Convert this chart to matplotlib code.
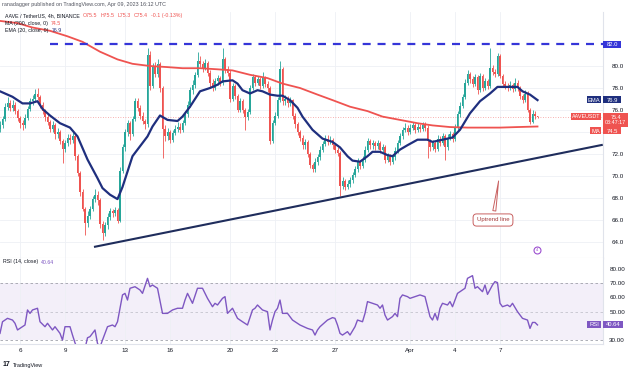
import numpy as np
import pandas as pd
import matplotlib
matplotlib.use("Agg")
import matplotlib.pyplot as plt
from matplotlib.patches import Rectangle

plt.rcParams['font.family'] = ['Liberation Sans', 'DejaVu Sans']

# =====================================================================
# DATA (AAVE / USDT, 4h candles)
# =====================================================================
start_time = '2023-03-04 16:00'
first_open = 74.3

closes = [
    74.6, 75.2, 76.3, 76.6, 76.2, 76.5, 75.9, 75.3, 74.8, 74.6,
    75.3, 76.1, 76.8, 77.0, 77.5, 77.2, 76.5, 75.9, 75.4, 74.9,
    74.3, 74.6, 73.8, 74.0, 73.2, 72.5, 73.0, 73.5, 73.3, 73.6,
    71.8, 70.3, 68.5, 67.0, 65.7, 66.4, 67.0, 67.9, 68.3, 67.8,
    65.6, 64.8, 65.5, 66.3, 66.8, 66.6, 66.9, 65.9, 70.5, 72.6,
    74.0, 74.8, 73.8, 75.2, 76.8, 76.2, 75.5, 75.0, 74.7, 81.0,
    78.2, 80.0, 79.3, 80.2, 78.0, 74.3, 73.6, 74.0, 73.3, 73.9,
    74.3, 74.5, 74.2, 74.8, 75.6, 76.5, 77.8, 78.3, 79.2, 80.5,
    80.2, 79.8, 80.3, 79.4, 78.5, 78.0, 78.6, 78.9, 78.5, 80.6,
    79.7, 79.4, 77.0, 78.2, 77.3, 76.0, 76.8, 76.0, 75.4, 75.8,
    78.0, 79.0, 78.5, 78.8, 78.2, 78.9, 78.4, 78.0, 73.2, 74.8,
    75.5, 76.9, 79.7, 76.8, 77.0, 76.6, 76.9, 75.5, 74.7, 74.0,
    73.5, 72.8, 73.1, 72.0, 71.0, 70.6, 71.3, 71.7, 72.4, 72.9,
    73.4, 73.1, 73.3, 72.8, 72.4, 72.1, 69.1, 69.5, 69.0, 69.3,
    69.6, 70.1, 70.6, 71.3, 70.9, 71.5, 72.4, 73.2, 72.8, 73.0,
    72.7, 73.0, 72.4, 72.6, 71.5, 71.8, 71.3, 71.7, 72.3, 73.0,
    73.6, 74.2, 74.4, 74.0, 74.4, 74.6, 74.2, 74.5, 74.3, 74.6,
    74.4, 73.2, 72.6, 73.0, 72.5, 73.4, 73.0, 73.6, 72.6, 73.5,
    73.8, 73.4, 74.4, 75.6, 76.4, 77.2, 78.5, 79.3, 78.8, 78.4,
    79.0, 77.8, 79.1, 78.0, 78.6, 78.2, 79.8, 79.5, 79.3, 80.9,
    79.1, 78.4, 78.2, 78.0, 78.3, 77.9, 78.5, 78.0, 77.3, 76.9,
    77.5, 76.0, 74.9, 75.6, 75.5, 75.4,
]

highs = [
    75.0, 75.5, 76.6, 77.2, 76.9, 76.9, 76.7, 76.1, 75.5, 75.1,
    75.6, 76.4, 77.1, 77.4, 77.9, 78.0, 77.4, 76.7, 76.1, 75.7,
    75.1, 75.0, 74.8, 74.4, 74.2, 73.4, 73.3, 73.8, 73.8, 74.0,
    73.8, 72.0, 70.5, 68.8, 67.2, 66.8, 67.3, 68.2, 68.8, 68.6,
    68.0, 65.9, 65.8, 66.6, 67.1, 67.0, 67.2, 67.1, 70.8, 72.9,
    74.3, 75.1, 75.0, 75.5, 77.1, 77.1, 76.5, 75.8, 75.2, 81.6,
    81.4, 80.3, 80.4, 80.6, 80.4, 78.2, 74.6, 74.4, 74.2, 74.2,
    74.6, 74.9, 74.8, 75.1, 75.9, 76.8, 78.1, 78.7, 79.5, 81.3,
    80.9, 80.5, 80.6, 80.5, 79.6, 78.8, 78.9, 79.2, 79.1, 81.6,
    80.8, 80.0, 79.6, 78.5, 78.4, 77.5, 77.1, 77.0, 76.2, 76.1,
    78.3, 79.3, 79.2, 79.1, 79.0, 79.5, 79.1, 78.6, 78.2, 75.1,
    75.8, 77.2, 80.5, 79.9, 77.4, 77.3, 77.2, 77.0, 75.7, 74.9,
    74.2, 73.7, 73.4, 73.3, 72.2, 71.2, 71.6, 72.0, 72.7, 73.2,
    73.7, 73.7, 73.6, 73.5, 73.0, 72.6, 72.3, 69.9, 69.7, 69.6,
    69.9, 70.4, 70.9, 71.6, 71.5, 71.8, 72.7, 73.5, 73.4, 73.3,
    73.2, 73.3, 73.2, 72.9, 72.8, 72.1, 72.0, 72.0, 72.6, 73.3,
    73.9, 74.5, 74.8, 74.6, 74.7, 74.9, 74.8, 74.8, 74.7, 74.9,
    74.9, 74.6, 73.4, 73.3, 73.2, 73.7, 73.6, 73.9, 73.8, 73.8,
    74.1, 74.0, 74.7, 75.9, 76.7, 77.5, 78.8, 79.6, 79.5, 79.1,
    79.3, 79.2, 79.4, 79.3, 78.9, 78.8, 81.6, 80.1, 79.7, 81.2,
    81.1, 79.3, 78.6, 78.5, 78.6, 78.5, 78.9, 78.7, 78.2, 77.5,
    77.8, 77.7, 76.2, 76.0, 75.9, 75.5,
]

lows = [
    74.0, 74.4, 75.0, 76.0, 75.9, 75.9, 75.6, 75.0, 74.4, 74.2,
    74.4, 75.1, 75.9, 76.5, 76.8, 76.9, 76.2, 75.6, 75.0, 74.6,
    74.0, 74.0, 73.4, 73.5, 72.9, 71.2, 72.2, 72.7, 72.9, 73.0,
    71.5, 70.0, 68.2, 66.8, 64.6, 65.4, 66.1, 66.8, 67.6, 67.4,
    65.3, 64.2, 64.5, 65.2, 66.0, 66.3, 66.4, 65.7, 65.8, 70.3,
    72.3, 73.6, 73.3, 73.6, 75.0, 75.9, 75.2, 74.7, 74.3, 74.5,
    77.8, 78.0, 79.0, 79.0, 77.6, 71.6, 73.2, 73.3, 73.0, 73.1,
    73.7, 74.0, 73.9, 74.0, 74.6, 75.4, 76.3, 77.5, 78.0, 79.0,
    79.9, 79.5, 79.6, 79.1, 78.1, 77.7, 77.8, 78.3, 78.2, 78.3,
    79.4, 79.1, 76.7, 76.8, 77.0, 75.8, 75.8, 75.7, 74.2, 75.1,
    75.6, 77.8, 78.2, 78.3, 77.9, 78.0, 78.1, 77.6, 72.9, 73.0,
    74.6, 75.3, 76.7, 76.5, 76.5, 76.3, 76.4, 75.2, 74.4, 73.7,
    73.2, 72.5, 72.5, 71.7, 70.7, 70.4, 70.4, 71.0, 71.5, 72.2,
    72.7, 72.8, 72.9, 72.5, 72.1, 71.8, 68.2, 68.8, 68.7, 68.8,
    69.0, 69.4, 69.9, 70.4, 70.6, 70.7, 71.3, 72.2, 72.5, 72.5,
    72.4, 72.5, 72.1, 72.2, 71.2, 71.3, 71.0, 71.1, 71.5, 72.1,
    72.8, 73.4, 74.0, 73.7, 73.8, 74.2, 73.9, 74.0, 74.0, 74.1,
    74.1, 71.6, 72.3, 72.4, 72.2, 72.3, 72.7, 72.8, 71.5, 72.4,
    73.3, 73.1, 73.2, 74.2, 75.4, 76.2, 77.0, 78.3, 78.5, 78.1,
    78.2, 77.5, 77.6, 77.7, 77.8, 77.9, 78.0, 79.2, 79.0, 79.1,
    78.9, 78.1, 77.9, 77.7, 77.8, 77.6, 77.7, 77.7, 77.0, 76.6,
    76.7, 75.8, 74.7, 74.8, 75.2, 75.3,
]

# EMA(20) and MA(200) read at candle positions
ema_idx = [0, 5, 9, 12, 15, 17, 20, 24, 28, 31, 35, 39, 41, 44, 47, 49, 51, 53,
           56, 59, 61, 64, 67, 71, 73, 76, 80, 84, 87, 89, 93, 95, 97, 100, 103,
           105, 108, 111, 113, 116, 119, 121, 125, 129, 133, 136, 139, 141, 144,
           147, 149, 152, 155, 157, 160, 163, 167, 171, 173, 177, 181, 184, 188,
           192, 196, 199, 203, 207, 209, 212, 215]
ema20 = [77.7, 77.2, 76.6, 76.6, 76.8, 76.1, 75.5, 74.8, 74.4, 73.6, 71.5, 69.8,
         68.9, 68.3, 67.9, 69.0, 70.4, 71.8, 72.7, 73.6, 74.5, 75.5, 75.1, 75.0,
         75.4, 76.3, 77.7, 78.0, 78.3, 78.6, 78.7, 78.4, 77.8, 77.5, 77.8, 77.7,
         77.4, 77.3, 77.3, 76.9, 76.2, 75.4, 74.2, 73.4, 73.1, 72.6, 71.8, 71.4,
         71.3, 71.8, 72.2, 72.2, 71.9, 71.8, 72.4, 72.8, 73.3, 73.3, 73.1, 73.3,
         73.5, 74.2, 75.7, 76.8, 77.5, 78.1, 78.1, 78.1, 77.7, 77.4, 76.9]

ma_idx = [0, 7, 13, 20, 27, 33, 40, 47, 53, 60, 67, 73, 80, 87, 93, 100, 107,
          113, 120, 127, 133, 140, 147, 153, 160, 167, 173, 180, 187, 193, 200,
          207, 215]
ma200 = [84.1, 83.9, 83.5, 83.2, 82.7, 82.2, 81.3, 80.6, 80.2, 80.0, 79.9, 79.8,
         79.8, 79.7, 79.6, 79.2, 78.9, 78.4, 78.0, 77.4, 76.9, 76.3, 75.9, 75.4,
         75.1, 74.8, 74.6, 74.45, 74.4, 74.4, 74.4, 74.45, 74.5]

# RSI(14)
rsi_idx = [0, 1, 3, 5, 6, 7, 9, 10, 11, 12, 13, 15, 16, 18, 19, 21, 22, 24, 25,
           26, 28, 29, 30, 31, 32, 33, 34, 35, 36, 38, 39, 40, 41, 43, 45, 46,
           47, 49, 50, 51, 52, 54, 56, 57, 59, 60, 61, 63, 65, 67, 69, 71, 73,
           74, 75, 77, 79, 81, 83, 85, 86, 87, 89, 90, 91, 93, 95, 97, 99, 101,
           102, 103, 105, 107, 108, 109, 110, 111, 112, 113, 115, 117, 120, 123,
           125, 126, 127, 128, 131, 133, 134, 135, 136, 137, 139, 140, 142, 143,
           145, 146, 147, 149, 151, 152, 153, 154, 155, 157, 158, 159, 160, 161,
           163, 164, 166, 168, 170, 172, 173, 174, 175, 176, 177, 179, 180, 181,
           183, 185, 186, 187, 189, 190, 191, 193, 194, 195, 197, 198, 199, 200,
           201, 203, 204, 205, 207, 208, 209, 211, 212, 213, 214, 215]
rsi14 = [34.7, 42.9, 45.3, 44.1, 41.8, 37.1, 39.4, 40.6, 51.2, 48.8, 51.2, 52.4,
         42.9, 39.4, 41.8, 37.1, 39.4, 34.7, 30.0, 39.4, 39.4, 33.5, 28.0, 24.0,
         20.0, 17.5, 24.0, 31.6, 32.4, 37.1, 27.6, 25.0, 30.0, 39.4, 40.6, 39.4,
         42.9, 61.8, 62.9, 58.2, 66.5, 67.6, 65.3, 62.9, 73.5, 67.6, 68.8, 66.5,
         48.8, 48.8, 51.2, 52.4, 52.4, 58.2, 62.9, 55.9, 66.5, 66.5, 59.4, 53.5,
         55.9, 54.7, 59.4, 60.6, 48.8, 52.4, 45.3, 42.9, 40.6, 51.2, 52.4, 54.7,
         51.2, 50.0, 37.1, 44.1, 50.0, 52.4, 58.2, 48.8, 48.8, 44.1, 40.6, 38.2,
         37.1, 33.5, 37.1, 39.4, 44.1, 45.8, 45.3, 40.6, 34.7, 33.5, 35.9, 33.5,
         39.4, 44.1, 42.9, 48.8, 57.1, 55.9, 54.7, 52.4, 54.7, 47.6, 44.1, 46.5,
         48.8, 46.5, 59.4, 61.8, 60.6, 59.4, 60.6, 61.8, 60.6, 46.5, 44.1, 48.8,
         44.1, 52.4, 55.9, 54.7, 57.1, 53.5, 62.9, 65.3, 66.5, 73.5, 75.4, 66.5,
         67.6, 64.1, 68.8, 62.2, 68.8, 71.2, 70.5, 55.9, 53.5, 54.7, 53.5, 55.9,
         50.0, 47.6, 45.3, 44.1, 38.2, 42.4, 42.4, 40.64]

# uptrend line (candle index, price) and horizontal resistance
trend_idx = [38, 240.7]
trend_price = [63.57, 72.82]
resistance = 82.0
resistance_from = 20

date_ticks = ['2023-03-06', '2023-03-09', '2023-03-13', '2023-03-16', '2023-03-20',
              '2023-03-23', '2023-03-27', '2023-04-01', '2023-04-04', '2023-04-07']
date_labels = ['6', '9', '13', '16', '20', '23', '27', 'Apr', '4', '7']
price_ticks = [64, 66, 68, 70, 72, 74, 76, 78, 80]
price_hidden = [74]      # label sits under the MA tag
rsi_ticks = [30, 40, 50, 60, 70, 80]
rsi_hidden = [40]        # label sits under the RSI tag

GREEN = '#26a69a'
RED = '#ef5350'
NAVY = '#1f2f7e'
PURPLE = '#7e57c2'
GRID = '#eef0f5'
TEXT = '#131722'

# =====================================================================
# FIGURE
# =====================================================================
W, H = 631, 371
fig = plt.figure(figsize=(W / 100, H / 100), dpi=100, facecolor='white')

def fx(x):
    return x / W

def fy(y):
    return 1 - y / H

ax = fig.add_axes([0, fy(258), fx(603), (258 - 12) / H])
rax = fig.add_axes([0, fy(344), fx(603), (344 - 258) / H])

n = len(closes)
idx = np.arange(n)
c = np.array(closes)
o = np.array([first_open] + closes[:-1])
col = np.where(c >= o, GREEN, RED)

start = pd.Timestamp(start_time)
tick_pos = [(pd.Timestamp(d) - start) / pd.Timedelta('4h') for d in date_ticks]

# --- price pane ---
ax.vlines(idx, lows, highs, colors=col, lw=0.6, zorder=3)
ax.bar(idx, np.maximum(np.abs(c - o), 0.06), bottom=np.minimum(o, c), width=0.62,
       color=col, linewidth=0, zorder=4)
ax.plot(ma_idx, ma200, color=RED, lw=1.3, zorder=5)
ax.plot(ema_idx, ema20, color=NAVY, lw=1.6, zorder=5)
ax.plot(trend_idx, trend_price, color='#1f2d5c', lw=1.5, zorder=5)
ax.hlines(resistance, resistance_from, 241.2, color='#3535d8', lw=1.6,
          linestyles=(0, (3.6, 3.1)), zorder=5)
ax.axhline(closes[-1], color=RED, lw=0.6, ls=(0, (1, 2)), alpha=0.6, zorder=2)

ax.annotate('Uptrend line', xy=(199.6, 69.8), xytext=(197.2, 66.0),
            fontsize=4.3, color='#a33a3a', ha='center', va='center',
            bbox=dict(boxstyle='round,pad=0.6', fc='white', ec='#c86060', lw=0.7),
            arrowprops=dict(arrowstyle='wedge,tail_width=0.5', fc='white',
                            ec='#c86060', lw=0.7), zorder=6)
ax.plot([214.8], [63.27], marker='o', ms=5, mfc='white', mec='#9c4fd0', mew=0.8, zorder=6)
ax.text(214.8, 63.27, '4', fontsize=3, color='#9c4fd0', ha='center', va='center', zorder=7)

ax.set_xlim(0, 241.2)
ax.set_ylim(62.545, 84.91)
ax.set_xticks(tick_pos)
ax.set_yticks(price_ticks)
ax.yaxis.tick_right()
ax.set_yticklabels(['' if p in price_hidden else f'{p:.1f}' for p in price_ticks])
ax.tick_params(axis='both', length=0, labelsize=4.5, labelcolor=TEXT, pad=6.5,
               labelbottom=False)
ax.grid(True, color=GRID, lw=0.6)
for s in ['top', 'left']:
    ax.spines[s].set_visible(False)
for s in ['right', 'bottom']:
    ax.spines[s].set_color('#e0e3eb')
    ax.spines[s].set_linewidth(0.8)

# --- RSI pane ---
rax.axhspan(30, 70, color=PURPLE, alpha=0.09, lw=0)
for lvl, a in [(70, 0.9), (50, 0.5), (30, 0.9)]:
    rax.axhline(lvl, color='#9598a1', lw=0.6, ls=(0, (3, 3)), alpha=a)
rax.plot(rsi_idx, rsi14, color=PURPLE, lw=1.0)
rax.set_xlim(0, 241.2)
rax.set_ylim(27.2, 87.85)
rax.set_xticks(tick_pos)
rax.set_xticklabels(date_labels)
rax.set_yticks(rsi_ticks)
rax.yaxis.tick_right()
rax.set_yticklabels(['' if r in rsi_hidden else f'{r:.2f}' for r in rsi_ticks])
rax.tick_params(axis='both', length=0, labelsize=4.5, labelcolor=TEXT)
rax.tick_params(axis='y', pad=4.5)
rax.tick_params(axis='x', pad=3)
rax.grid(True, axis='x', color=GRID, lw=0.6)
for s in ['top', 'left']:
    rax.spines[s].set_visible(False)
for s in ['right', 'bottom']:
    rax.spines[s].set_color('#e0e3eb')
    rax.spines[s].set_linewidth(0.8)

# =====================================================================
# TEXT OVERLAYS
# =====================================================================
renderer = fig.canvas.get_renderer()

def txt(x, y, s, color=TEXT, fs=3.8, **kw):
    return fig.text(fx(x), fy(y), s, color=color, fontsize=fs, va='center', **kw)

def run(x, y, parts, gap=3, fs=3.8):
    """Draw coloured text pieces one after another on a line."""
    for s, color in parts:
        t = txt(x, y, s, color, fs)
        x = t.get_window_extent(renderer).x1 + gap

def tag(x0, x1, yc, h, color, s, fs=4.2):
    fig.add_artist(Rectangle((fx(x0), fy(yc + h / 2)), (x1 - x0) / W, h / H,
                             transform=fig.transFigure, facecolor=color,
                             edgecolor='none', zorder=5))
    fig.text(fx((x0 + x1) / 2), fy(yc), s, color='white', fontsize=fs,
             ha='center', va='center', zorder=6, linespacing=1.15)

txt(2, 4.5, 'ranadagger published on TradingView.com, Apr 09, 2023 16:12 UTC', '#50535e', 3.9)
run(5, 15.7, [('AAVE / TetherUS, 4h, BINANCE', TEXT), ('O75.5', RED), ('H75.5', RED),
              ('L75.3', RED), ('C75.4', RED), ('-0.1 (-0.13%)', RED)])
run(5, 23.3, [('MA (200, close, 0)', TEXT), ('74.5', RED)])
run(5, 30.7, [('EMA (20, close, 0)', TEXT), ('76.9', NAVY)])
run(3, 262, [('RSI (14, close)', TEXT), ('40.64', PURPLE)])

tag(603, 621, 44, 7, '#3535d8', '82.0')
tag(587, 601, 100, 7, NAVY, 'EMA')
tag(603, 621, 100, 7, NAVY, '76.9')
tag(571, 601, 116.7, 7, RED, 'AAVEUSDT', 3.9)
tag(603, 628, 120, 14, RED, '75.4\n03:47:17', 3.9)
tag(590, 601, 131, 7, RED, 'MA')
tag(603, 621, 131, 7, RED, '74.5')
tag(587, 601, 324, 7, PURPLE, 'RSI')
tag(603, 623, 324, 7, PURPLE, '40.64')

txt(3, 365, '17', TEXT, 5, weight='bold')
txt(13, 365, 'TradingView', TEXT, 4.0)

fig.savefig('out.png', dpi=100, facecolor='white')
